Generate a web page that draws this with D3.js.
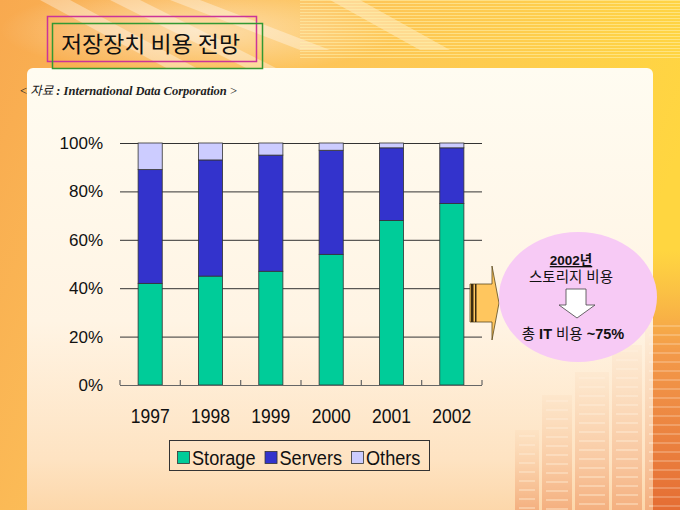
<!DOCTYPE html>
<html>
<head>
<meta charset="utf-8">
<script src="https://cdn.jsdelivr.net/npm/d3@7"></script>
<style>
  html, body { margin: 0; padding: 0; background: #fff; }
  svg { display: block; }
</style>
</head>
<body>
<svg id="chart" width="680" height="510"></svg>
<script>
// data (share of storage spending, %)
var years = ['1997', '1998', '1999', '2000', '2001', '2002'];
var storage = [42, 45, 47, 54, 68, 75];
var servers = [47, 48, 48, 43, 30, 23];
var others = [11, 7, 5, 3, 2, 2];
var seriesNames = ['Storage', 'Servers', 'Others'];
var seriesColors = ['#00CC99', '#3333CC', '#CCCCFF'];
var yTicks = [0, 20, 40, 60, 80, 100];

var svg = d3.select('#chart');
var defs = svg.append('defs');

// ---- background ----
var bg = defs.append('linearGradient').attr('id', 'bgGrad')
    .attr('x1', 0).attr('y1', 0).attr('x2', 1).attr('y2', 0.3);
bg.append('stop').attr('offset', '0%').attr('stop-color', '#F8A94F');
bg.append('stop').attr('offset', '45%').attr('stop-color', '#FDC45A');
bg.append('stop').attr('offset', '100%').attr('stop-color', '#FFD640');

var panelGrad = defs.append('linearGradient').attr('id', 'panelGrad')
    .attr('x1', 0).attr('y1', 0).attr('x2', 0).attr('y2', 1);
panelGrad.append('stop').attr('offset', '0%').attr('stop-color', '#FFFCF1');
panelGrad.append('stop').attr('offset', '55%').attr('stop-color', '#FFF4E4');
panelGrad.append('stop').attr('offset', '85%').attr('stop-color', '#FEE3C2');
panelGrad.append('stop').attr('offset', '100%').attr('stop-color', '#FCD3A2');

var glow = defs.append('radialGradient').attr('id', 'glow')
    .attr('cx', 0.5).attr('cy', 0.5).attr('r', 0.5);
glow.append('stop').attr('offset', '0%').attr('stop-color', '#fff').attr('stop-opacity', 0.85);
glow.append('stop').attr('offset', '100%').attr('stop-color', '#fff').attr('stop-opacity', 0);

var towerGrad = defs.append('linearGradient').attr('id', 'towerGrad')
    .attr('x1', 0).attr('y1', 0).attr('x2', 0).attr('y2', 1);
towerGrad.append('stop').attr('offset', '0%').attr('stop-color', '#F4A46A').attr('stop-opacity', 0.1);
towerGrad.append('stop').attr('offset', '100%').attr('stop-color', '#E8703A').attr('stop-opacity', 0.75);

var edgeGrad = defs.append('linearGradient').attr('id', 'edgeGrad')
    .attr('x1', 0).attr('y1', 0).attr('x2', 0).attr('y2', 1);
edgeGrad.append('stop').attr('offset', '0%').attr('stop-color', '#F39A50').attr('stop-opacity', 0);
edgeGrad.append('stop').attr('offset', '40%').attr('stop-color', '#F08A48').attr('stop-opacity', 0.8);
edgeGrad.append('stop').attr('offset', '100%').attr('stop-color', '#E0602E').attr('stop-opacity', 0.9);

svg.append('rect').attr('width', 680).attr('height', 510).attr('fill', 'url(#bgGrad)');
svg.append('rect').attr('x', 650).attr('y', 250).attr('width', 30).attr('height', 260)
    .attr('fill', 'url(#edgeGrad)');

// light streaks at the top-left
var streaks = [[40, 0, 170, 70], [110, 0, 250, 70], [170, 0, 300, 50], [330, 0, 420, 50]];
svg.selectAll('.streak').data(streaks).enter().append('path')
    .attr('d', function (d) {
        return 'M' + d[0] + ',' + d[1] + 'L' + (d[0] + 30) + ',' + d[1] +
            'L' + (d[2] + 30) + ',' + d[3] + 'L' + d[2] + ',' + d[3] + 'Z';
    })
    .attr('fill', '#fff').attr('opacity', 0.35);
svg.append('ellipse').attr('cx', 200).attr('cy', 30).attr('rx', 200).attr('ry', 45)
    .attr('fill', 'url(#glow)').attr('opacity', 0.6);

// horizontal pin-stripes across the top
svg.selectAll('.stripe').data(d3.range(0, 60, 3)).enter().append('line')
    .attr('x1', 300).attr('x2', 680)
    .attr('y1', function (d) { return d + 0.5; })
    .attr('y2', function (d) { return d + 0.5; })
    .attr('stroke', '#FFF2B0').attr('stroke-width', 1).attr('opacity', 0.55);

// the cream panel
svg.append('rect').attr('x', 27).attr('y', 68).attr('width', 626).attr('height', 460)
    .attr('rx', 6).attr('fill', 'url(#panelGrad)');

// faint city skyline, bottom right
var towers = [[515, 430, 24], [542, 395, 30], [575, 372, 34], [612, 345, 30], [645, 320, 40]];
var tw = svg.append('g').attr('opacity', 0.5);
tw.selectAll('rect').data(towers).enter().append('rect')
    .attr('x', function (d) { return d[0]; })
    .attr('y', function (d) { return d[1]; })
    .attr('width', function (d) { return d[2]; })
    .attr('height', function (d) { return 510 - d[1]; })
    .attr('fill', 'url(#towerGrad)');
towers.forEach(function (t) {
    tw.selectAll(null).data(d3.range(t[1] + 6, 510, 9)).enter().append('line')
        .attr('x1', t[0] + 4).attr('x2', t[0] + t[2] - 4)
        .attr('y1', function (d) { return d; }).attr('y2', function (d) { return d; })
        .attr('stroke', '#FFF0E0').attr('stroke-width', 2).attr('opacity', 0.5);
});

// ---- title ----
svg.append('rect').attr('x', 47.5).attr('y', 16.5).attr('width', 209).attr('height', 45)
    .attr('fill', 'none').attr('stroke', '#CC3399').attr('stroke-width', 1.5);
svg.append('rect').attr('x', 52.5).attr('y', 23.5).attr('width', 210).attr('height', 45)
    .attr('fill', 'none').attr('stroke', '#339933').attr('stroke-width', 1.5);
svg.append('text').attr('x', 61).attr('y', 52)
    .attr('textLength', 179).attr('lengthAdjust', 'spacingAndGlyphs')
    .style('font-family', '"Noto Sans CJK KR", sans-serif').style('font-size', '22px')
    .attr('fill', '#111').text('저장장치 비용 전망');

// source
var src = svg.append('text').attr('x', 20).attr('y', 95)
    .attr('textLength', 217).attr('lengthAdjust', 'spacingAndGlyphs')
    .style('font-size', '12.5px').attr('fill', '#222');
src.append('tspan').style('font-family', '"Liberation Serif", serif').text('< ');
src.append('tspan').style('font-family', '"Noto Sans CJK KR", sans-serif')
    .style('font-style', 'italic').text('자료');
src.append('tspan').style('font-family', '"Liberation Serif", serif')
    .style('font-style', 'italic').style('font-weight', 'bold')
    .text(' : International Data Corporation ');
src.append('tspan').style('font-family', '"Liberation Serif", serif').text('>');

// ---- chart ----
var x = d3.scaleBand().domain(years).range([120, 482])
    .paddingInner(0.6).paddingOuter(0.3);
var y = d3.scaleLinear().domain([0, 100]).range([385, 143]);

var rows = years.map(function (yr, i) {
    return { year: yr, Storage: storage[i], Servers: servers[i], Others: others[i] };
});
var stacked = d3.stack().keys(seriesNames)(rows);

// gridlines
svg.append('g').selectAll('line').data(yTicks.slice(1)).enter().append('line')
    .attr('x1', 120).attr('x2', 482)
    .attr('y1', function (d) { return y(d) + 0.5; })
    .attr('y2', function (d) { return y(d) + 0.5; })
    .attr('stroke', '#333').attr('stroke-width', 1);

// y labels
svg.append('g').selectAll('text').data(yTicks).enter().append('text')
    .attr('x', 103).attr('y', function (d) { return y(d) + 6; })
    .attr('text-anchor', 'end')
    .style('font-family', '"Liberation Sans", Arial, sans-serif').style('font-size', '17px')
    .attr('fill', '#111').text(function (d) { return d + '%'; });

// bars
svg.append('g').selectAll('g').data(stacked).enter().append('g')
    .attr('fill', function (d, i) { return seriesColors[i]; })
    .selectAll('rect').data(function (d) { return d; }).enter().append('rect')
    .attr('x', function (d) { return x(d.data.year); })
    .attr('y', function (d) { return y(d[1]); })
    .attr('width', x.bandwidth())
    .attr('height', function (d) { return y(d[0]) - y(d[1]); })
    .attr('stroke', '#333').attr('stroke-width', 0.8);

// x axis: baseline with ticks pointing up at category borders
var xAxis = svg.append('g').attr('transform', 'translate(0,385)');
xAxis.append('line').attr('x1', 120).attr('x2', 482).attr('y1', 0.5).attr('y2', 0.5)
    .attr('stroke', '#666').attr('stroke-width', 1.2);
var step = x.step();
xAxis.selectAll('.tk').data(d3.range(years.length + 1)).enter().append('line')
    .attr('x1', function (i) { return 120 + i * step; })
    .attr('x2', function (i) { return 120 + i * step; })
    .attr('y1', 0).attr('y2', -5)
    .attr('stroke', '#666').attr('stroke-width', 1.2);
xAxis.selectAll('text').data(years).enter().append('text')
    .attr('x', function (d) { return x(d) + x.bandwidth() / 2 - 19.5; })
    .attr('y', 38)
    .attr('textLength', 39).attr('lengthAdjust', 'spacingAndGlyphs')
    .style('font-family', '"Liberation Sans", sans-serif')
    .style('font-size', '20px')
    .attr('fill', '#111').text(function (d) { return d; });

// legend
var legend = svg.append('g');
legend.append('rect').attr('x', 169.5).attr('y', 440.5).attr('width', 260).attr('height', 30)
    .attr('fill', 'none').attr('stroke', '#333').attr('stroke-width', 1);
var lx = 177;
seriesNames.forEach(function (name, i) {
    legend.append('rect').attr('x', lx + 0.5).attr('y', 451.5).attr('width', 12).attr('height', 12)
        .attr('fill', seriesColors[i]).attr('stroke', '#333').attr('stroke-width', 0.8);
    var t = legend.append('text').attr('x', lx + 15).attr('y', 464.5)
        .style('font-family', '"Liberation Sans", Arial, sans-serif').style('font-size', '19.5px')
        .attr('fill', '#111').text(name);
    var w = t.node().getComputedTextLength() * 0.93;
    t.attr('textLength', w).attr('lengthAdjust', 'spacingAndGlyphs');
    lx += 15 + w + 9;
});

// ---- callout: block arrow and ellipse ----
var call = svg.append('g');
call.append('path')
    .attr('d', 'M470,284 L492,284 L492,266 L499,303 L492,340 L492,322 L470,322 Z')
    .attr('fill', '#FFC65E').attr('stroke', '#5A4A20').attr('stroke-width', 0.8);
call.append('rect').attr('x', 471).attr('y', 284).attr('width', 2.5).attr('height', 38).attr('fill', '#3A2A10');
call.append('rect').attr('x', 475).attr('y', 284).attr('width', 1.5).attr('height', 38).attr('fill', '#3A2A10');

call.append('ellipse').attr('cx', 578).attr('cy', 297).attr('rx', 79).attr('ry', 65)
    .attr('fill', '#F7CAF5');

var kr = '"Liberation Sans", "Noto Sans CJK KR", sans-serif';
call.append('text').attr('x', 571).attr('y', 265).attr('text-anchor', 'middle')
    .style('font-family', kr).style('font-size', '13.5px').style('font-weight', 'bold')
    .style('text-decoration', 'underline').attr('fill', '#111').text('2002년');
call.append('text').attr('x', 571).attr('y', 282).attr('text-anchor', 'middle')
    .style('font-family', kr).style('font-size', '14.5px')
    .attr('fill', '#111').text('스토리지 비용');
call.append('path')
    .attr('d', 'M566,289 L586,289 L586,305 L595,305 L577,318 L559,305 L566,305 Z')
    .attr('fill', '#fff').attr('stroke', '#444').attr('stroke-width', 0.8);
var last = call.append('text').attr('x', 573).attr('y', 339).attr('text-anchor', 'middle')
    .style('font-family', kr).style('font-size', '14.5px').attr('fill', '#111');
last.append('tspan').text('총 ');
last.append('tspan').style('font-weight', 'bold').text('IT');
last.append('tspan').text(' 비용 ');
last.append('tspan').style('font-weight', 'bold').text('~75%');
</script>
</body>
</html>
